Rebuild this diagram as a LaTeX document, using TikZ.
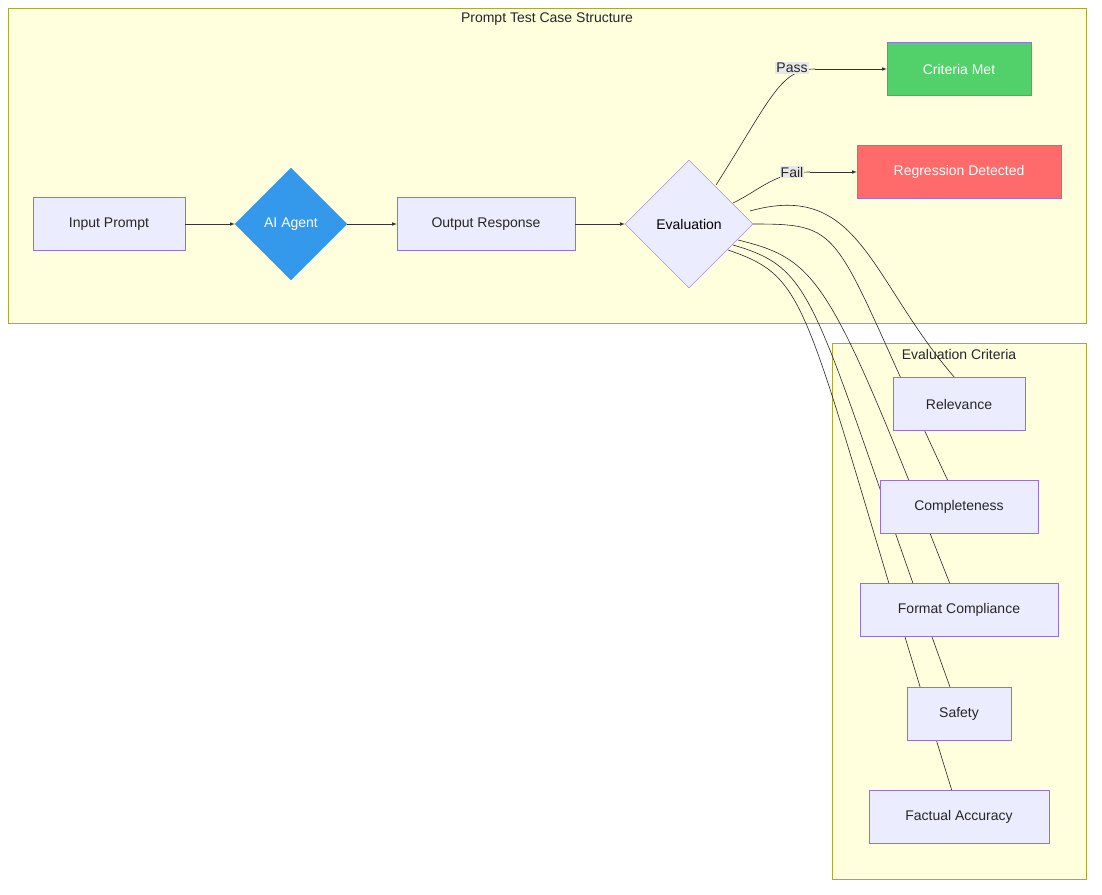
\documentclass[tikz,border=0pt]{standalone}
\usepackage{fontspec}
\setmainfont{Liberation Sans}
\usetikzlibrary{positioning}
\usetikzlibrary{shapes.geometric}
\definecolor{clusterfill}{HTML}{FFFFDE}
\definecolor{clusterline}{HTML}{AAAA33}
\definecolor{nodefill}{HTML}{ECECFF}
\definecolor{nodeline}{HTML}{9370DB}
\definecolor{agentblue}{HTML}{3498EB}
\definecolor{passgreen}{HTML}{52D06A}
\definecolor{failred}{HTML}{FF6B6B}
\definecolor{edgelabel}{HTML}{E8E8E8}

\begin{document}
\begin{tikzpicture}[
        x=1pt, y=-1pt,
        font=\fontsize{14}{16}\selectfont,
        box/.style = {
            draw=nodeline,
            fill=nodefill,
            rectangle,
            minimum height=53pt,
            inner sep=0pt,
            text=black!85
        },
        decision/.style = {
            draw=nodeline,
            fill=nodefill,
            diamond,
            minimum width=#1,
            minimum height=#1,
            inner sep=0pt
        },
        decision/.default = 128pt,
        cluster/.style = {draw=clusterline, fill=clusterfill},
        flow/.style = {-latex, black!80, line width=0.6pt},
        crit/.style = {black!85, line width=0.6pt}
        ]
%
        \useasboundingbox (0,0) rectangle (1102,894);
        \draw[cluster] (8,8) rectangle (1086,323);
        \node[text=black!85] (title1) at (547,19) {Prompt Test Case Structure};
        \draw[cluster] (832,343) rectangle (1086,879);
        \node[text=black!85] (title2) at (959,354) {Evaluation Criteria};
%
        \node[box, minimum width=152pt] (input) at (109,224) {Input Prompt};
        \node[decision=112pt, fill=agentblue, draw=agentblue, text=white] (agent) at (291,224) {AI Agent};
        \node[box, minimum width=178pt] (output) at (486,224) {Output Response};
        \node[decision] (eval) at (689,224) {Evaluation};
        \node[box, minimum width=144pt, fill=passgreen, text=white] (met) at (959,69) {Criteria Met};
        \node[box, minimum width=204pt, fill=failred, text=white] (regress) at (959,172) {Regression Detected};
%
        \coordinate (e1) at (750,211);
        \coordinate (e2) at (753,224);
        \coordinate (e3) at (738,240);
        \coordinate (e4) at (733,245);
        \coordinate (e5) at (728,250);
        \draw[crit] (e1) .. controls (860,180) and (870,280) .. (955,378);
        \draw[crit] (e2) .. controls (850,224) and (830,230) .. (948,481);
        \draw[crit] (e3) .. controls (820,260) and (830,280) .. (950,584);
        \draw[crit] (e4) .. controls (820,270) and (810,300) .. (950,687);
        \draw[crit] (e5) .. controls (815,280) and (800,300) .. (952,791);
%
        \node[box, minimum width=132pt] (relevance) at (959,404) {Relevance};
        \node[box, minimum width=158pt] (complete) at (959,507) {Completeness};
        \node[box, minimum width=198pt] (format) at (959,610) {Format Compliance};
        \node[box, minimum width=104pt] (safety) at (959,714) {Safety};
        \node[box, minimum width=180pt] (factual) at (959,817) {Factual Accuracy};
%
        \draw[flow] (input) -- (agent);
        \draw[flow] (agent) -- (output);
        \draw[flow] (output) -- (eval);
        \draw[crit] (eval.north east) ++(-5,-7) coordinate (p0) .. controls (770,100) and (780,69) .. (815,69) coordinate (p1);
        \draw[flow] (p1) -- (met);
        \draw[crit] (733,203) .. controls (760,190) and (775,172) .. (810,172) coordinate (f1);
        \draw[flow] (f1) -- (regress);
        \node[fill=edgelabel, inner sep=1pt, text=black!85] (pass) at (792,68) {Pass};
        \node[fill=edgelabel, inner sep=1pt, text=black!85] (fail) at (792,172) {Fail};
    \end{tikzpicture}
\end{document}
